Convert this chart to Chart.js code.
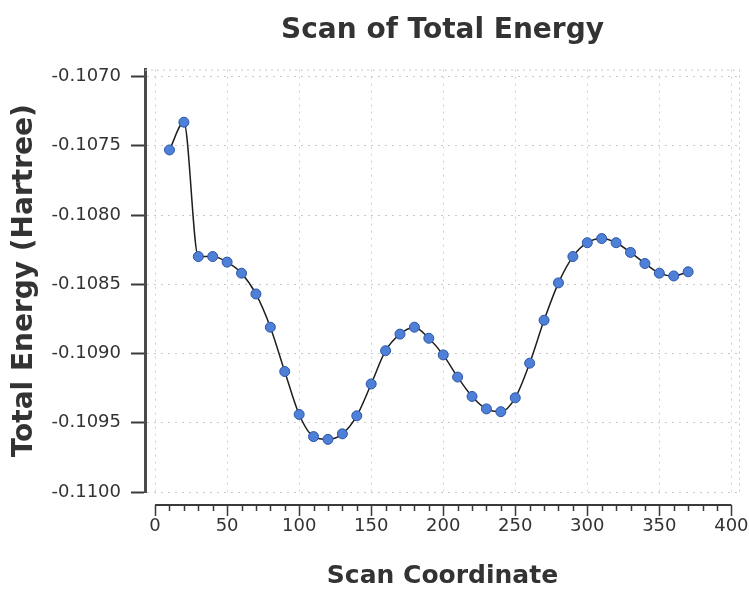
<!DOCTYPE html>
<html>
<head>
<meta charset="utf-8">
<title>Scan of Total Energy</title>
<script src="https://cdn.jsdelivr.net/npm/chart.js@4.4.1/dist/chart.umd.min.js"></script>
<style>
  html, body { margin: 0; padding: 0; background: #ffffff; }
  #chart { display: block; }
</style>
</head>
<body>
<canvas id="chart" width="749" height="591"></canvas>
<script>
// Relaxed scan: scan coordinate vs. total energy (Hartree)
const scanCoordinate = [10, 20, 30, 40, 50, 60, 70, 80, 90, 100, 110, 120, 130, 140, 150, 160, 170, 180, 190,
                        200, 210, 220, 230, 240, 250, 260, 270, 280, 290, 300, 310, 320, 330, 340, 350, 360, 370];
const totalEnergy = [-0.10753, -0.10733, -0.10830, -0.10830, -0.10834, -0.10842, -0.10857, -0.10881, -0.10913,
                     -0.10944, -0.10960, -0.10962, -0.10958, -0.10945, -0.10922, -0.10898, -0.10886, -0.10881,
                     -0.10889, -0.10901, -0.10917, -0.10931, -0.10940, -0.10942, -0.10932, -0.10907, -0.10876,
                     -0.10849, -0.10830, -0.10820, -0.10817, -0.10820, -0.10827, -0.10835, -0.10842, -0.10844,
                     -0.10841];
const xTickValues = [0, 50, 100, 150, 200, 250, 300, 350, 400];
const xMinorStep = 10;
const yTickValues = [-0.1100, -0.1095, -0.1090, -0.1085, -0.1080, -0.1075, -0.1070];

const TEXT = '#333333';
const FONT = "'DejaVu Sans', 'Liberation Sans', Arial, sans-serif";

// Frame lines plus the detached x axis with major and minor ticks
const axisDecor = {
  id: 'axisDecor',
  beforeDatasetsDraw(chart) {
    const { ctx, chartArea: a } = chart;
    ctx.save();
    ctx.strokeStyle = '#c8c8c8';
    ctx.lineWidth = 1;
    ctx.setLineDash([2, 4]);
    ctx.beginPath();
    ctx.moveTo(a.left, a.top + 0.5);
    ctx.lineTo(a.right, a.top + 0.5);
    ctx.moveTo(a.right - 0.5, a.top);
    ctx.lineTo(a.right - 0.5, a.bottom);
    ctx.stroke();
    ctx.restore();
  },
  afterDraw(chart) {
    const { ctx, chartArea: a } = chart;
    const xs = chart.scales.x;
    const y0 = a.bottom + 13;
    const first = xTickValues[0];
    const last = xTickValues[xTickValues.length - 1];
    ctx.save();
    ctx.strokeStyle = '#3a3a3a';
    ctx.lineWidth = 2;
    ctx.beginPath();
    ctx.moveTo(xs.getPixelForValue(first), y0);
    ctx.lineTo(xs.getPixelForValue(last), y0);
    ctx.stroke();
    ctx.lineWidth = 1.5;
    ctx.beginPath();
    for (let v = first; v <= last; v += xMinorStep) {
      const px = Math.round(xs.getPixelForValue(v)) + 0.5;
      const major = xTickValues.includes(v);
      ctx.moveTo(px, y0);
      ctx.lineTo(px, y0 + (major ? 11 : 6));
    }
    ctx.stroke();
    ctx.restore();
  }
};

new Chart(document.getElementById('chart'), {
  type: 'line',
  data: {
    datasets: [{
      label: 'Total Energy',
      data: scanCoordinate.map((x, i) => ({ x, y: totalEnergy[i] })),
      borderColor: '#1e1e1e',
      borderWidth: 1.5,
      cubicInterpolationMode: 'monotone',
      pointRadius: 5,
      pointBackgroundColor: '#4f80d8',
      pointBorderColor: '#2a55a6',
      pointBorderWidth: 1,
      fill: false
    }]
  },
  options: {
    responsive: false,
    animation: false,
    devicePixelRatio: 1,
    layout: { padding: { left: 0, right: 9, top: 0, bottom: 0 } },
    plugins: {
      legend: { display: false },
      tooltip: { enabled: false },
      title: {
        display: true,
        fullSize: false,
        text: 'Scan of Total Energy',
        color: TEXT,
        font: { family: FONT, size: 28, weight: 'bold', lineHeight: 1.2 },
        padding: { top: 14, bottom: 22 }
      }
    },
    scales: {
      x: {
        type: 'linear',
        min: -7,
        max: 406,
        afterFit(scale) {
          scale.height = 99;
          scale.paddingLeft = 0;
          scale.paddingRight = 0;
        },
        afterBuildTicks(scale) { scale.ticks = xTickValues.map(v => ({ value: v })); },
        ticks: {
          autoSkip: false,
          maxRotation: 0,
          padding: 24,
          color: TEXT,
          font: { family: FONT, size: 18 },
          callback: v => String(v)
        },
        grid: {
          color: '#d0d0d0',
          lineWidth: 1,
          drawTicks: false
        },
        border: { display: false, dash: [2, 5] },
        title: {
          display: true,
          text: 'Scan Coordinate',
          color: TEXT,
          font: { family: FONT, size: 25, weight: 'bold', lineHeight: 1.2 },
          padding: { top: 0, bottom: 0 }
        }
      },
      y: {
        type: 'linear',
        min: -0.1100,
        max: -0.10695,
        afterFit(scale) {
          scale.width = 145;
          scale.paddingTop = 0;
          scale.paddingBottom = 0;
        },
        afterBuildTicks(scale) { scale.ticks = yTickValues.map(v => ({ value: v })); },
        ticks: {
          autoSkip: false,
          padding: 10,
          color: TEXT,
          font: { family: FONT, size: 18 },
          callback: v => v.toFixed(4)
        },
        grid: {
          color: '#c8c8c8',
          lineWidth: 1,
          drawTicks: true,
          tickLength: 14,
          tickColor: '#3a3a3a',
          tickWidth: 2,
          tickBorderDash: []
        },
        border: { display: true, color: '#4a4a4a', width: 3, dash: [2, 5] },
        title: {
          display: true,
          text: 'Total Energy (Hartree)',
          color: TEXT,
          font: { family: FONT, size: 28, weight: 'bold', lineHeight: 1.2 },
          padding: { top: 8, bottom: 0 }
        }
      }
    }
  },
  plugins: [axisDecor]
});
</script>
</body>
</html>
